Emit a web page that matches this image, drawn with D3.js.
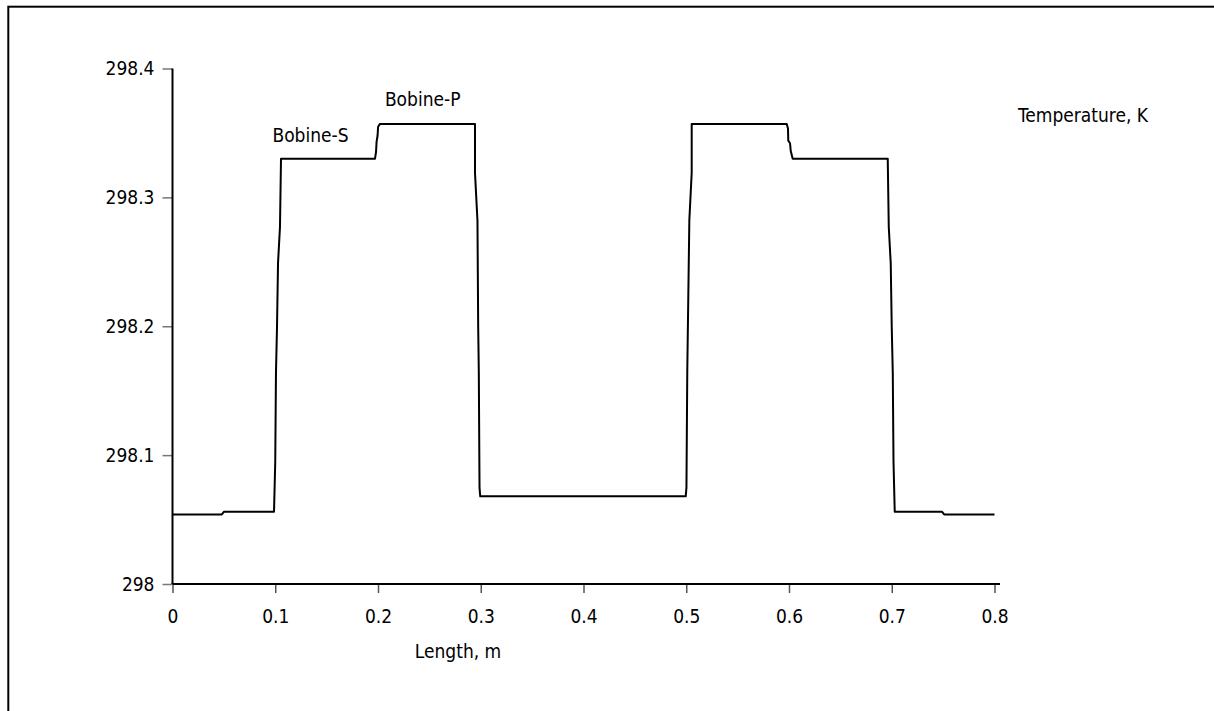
<!DOCTYPE html>
<html>
<head>
<meta charset="utf-8">
<script src="https://cdn.jsdelivr.net/npm/d3@7"></script>
<style>
  html, body { margin: 0; padding: 0; background: #fff; }
  svg { display: block; }
  text { font-family: "DejaVu Sans Condensed", "DejaVu Sans", sans-serif; font-stretch: condensed; fill: #000; }
</style>
</head>
<body>
<svg id="chart" width="1214" height="711"></svg>
<script>
// Temperature profile along the coil assembly
const lengthM = [
  0, 0.048, 0.050, 0.0988, 0.1000, 0.1007, 0.1017, 0.1027, 0.1046, 0.1056,
  0.1971, 0.1981, 0.1986, 0.1996, 0.2001, 0.2019,
  0.2944, 0.2944, 0.2968, 0.2975, 0.2981, 0.2988, 0.2995,
  0.4995, 0.5002, 0.5010, 0.5016, 0.5030, 0.5053, 0.5053,
  0.5978, 0.5990, 0.5993, 0.6010, 0.6017, 0.6036,
  0.6961, 0.6971, 0.6990, 0.7000, 0.7010, 0.7017, 0.7029,
  0.7490, 0.7510, 0.8000
];
const tempK = [
  298.054, 298.054, 298.056, 298.056, 298.095, 298.164, 298.199, 298.249, 298.277, 298.330,
  298.330, 298.3354, 298.343, 298.348, 298.3548, 298.357,
  298.357, 298.319, 298.282, 298.200, 298.165, 298.075, 298.068,
  298.068, 298.075, 298.165, 298.200, 298.282, 298.319, 298.357,
  298.357, 298.3534, 298.344, 298.342, 298.336, 298.330,
  298.330, 298.277, 298.249, 298.199, 298.164, 298.095, 298.056,
  298.056, 298.054, 298.054
];
const xTicks = [0, 0.1, 0.2, 0.3, 0.4, 0.5, 0.6, 0.7, 0.8];
const yTicks = [298, 298.1, 298.2, 298.3, 298.4];
const xTickLabels = ["0", "0.1", "0.2", "0.3", "0.4", "0.5", "0.6", "0.7", "0.8"];
const yTickLabels = ["298", "298.1", "298.2", "298.3", "298.4"];
const annotations = [
  { text: "Bobine-S", x: 0.1343, y: 298.343 },
  { text: "Bobine-P", x: 0.2435, y: 298.371 }
];

const svg = d3.select("#chart");
const fontSize = 19;

// outer frame
svg.append("rect")
  .attr("x", 8.3).attr("y", 6.7)
  .attr("width", 1300).attr("height", 800)
  .attr("fill", "none").attr("stroke", "#000").attr("stroke-width", 2);

const x = d3.scaleLinear().domain([0, 0.8]).range([172.5, 994.5]);
const y = d3.scaleLinear().domain([298, 298.4]).range([584, 68.5]);

// x axis
const gx = svg.append("g").attr("transform", `translate(0,${y(298)})`);
gx.call(d3.axisBottom(x).tickValues(xTicks).tickFormat((d, i) => xTickLabels[i]).tickSize(9).tickSizeOuter(0).tickPadding(17));
gx.select(".domain").remove();
gx.append("line").attr("x1", x(0) - 1).attr("x2", 1000).attr("y1", 0).attr("y2", 0)
  .attr("stroke", "#000").attr("stroke-width", 2);
gx.selectAll(".tick line").attr("stroke", "#555").attr("stroke-width", 1.5);
gx.selectAll(".tick text").style("font-size", fontSize + "px").attr("fill", "#000");

// y axis
const gy = svg.append("g").attr("transform", `translate(${x(0)},0)`);
gy.call(d3.axisLeft(y).tickValues(yTicks).tickFormat((d, i) => yTickLabels[i]).tickSize(10).tickSizeOuter(0).tickPadding(8));
gy.select(".domain").remove();
gy.append("line").attr("x1", 0).attr("x2", 0).attr("y1", y(298.4)).attr("y2", y(298))
  .attr("stroke", "#000").attr("stroke-width", 2);
gy.selectAll(".tick line").attr("stroke", "#777").attr("stroke-width", 1.5);
gy.selectAll(".tick text").style("font-size", fontSize + "px").attr("fill", "#000");

// temperature curve
const pts = lengthM.map((d, i) => [d, tempK[i]]);
svg.append("path")
  .datum(pts)
  .attr("fill", "none")
  .attr("stroke", "#000")
  .attr("stroke-width", 2)
  .attr("stroke-linejoin", "round")
  .attr("d", d3.line().x(d => x(d[0])).y(d => y(d[1])));

// coil labels
svg.selectAll(".coil")
  .data(annotations)
  .join("text")
  .attr("class", "coil")
  .attr("x", d => x(d.x))
  .attr("y", d => y(d.y))
  .attr("text-anchor", "middle")
  .style("font-size", fontSize + "px")
  .text(d => d.text);

// axis titles
svg.append("text")
  .attr("x", 458).attr("y", 658)
  .attr("text-anchor", "middle")
  .style("font-size", fontSize + "px")
  .text("Length, m");

svg.append("text")
  .attr("x", 1018).attr("y", 122)
  .attr("text-anchor", "start")
  .style("font-size", fontSize + "px")
  .text("Temperature, K");
</script>
</body>
</html>
